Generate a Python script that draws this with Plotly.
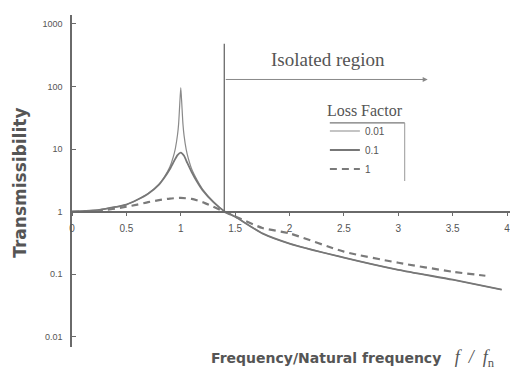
import math
import plotly.graph_objects as go

# ---- data ----
x_001 = [0, 0.25, 0.5, 0.6, 0.7, 0.8, 0.85, 0.9, 0.93, 0.95, 0.97, 0.98, 0.99, 1.0,
         1.01, 1.02, 1.03, 1.05, 1.07, 1.1, 1.15, 1.2, 1.3, 1.4, 1.5, 1.75, 2.0, 2.5, 3.0, 3.5, 3.95]
y_001 = [1.0, 1.07, 1.3, 1.55, 1.95, 2.75, 3.6, 5.2, 7.4, 10.2, 16.9, 25, 50, 96,
         50, 25, 16.5, 9.8, 7.0, 4.8, 3.2, 2.3, 1.45, 1.02, 0.83, 0.45, 0.31, 0.185, 0.118, 0.082, 0.057]

x_01 = [0, 0.25, 0.4, 0.5, 0.6, 0.7, 0.8, 0.85, 0.9, 0.94, 0.97, 1.0,
        1.03, 1.06, 1.1, 1.15, 1.2, 1.3, 1.4, 1.5, 1.75, 2.0, 2.5, 3.0, 3.5, 3.95]
y_01 = [1.0, 1.07, 1.19, 1.3, 1.55, 1.93, 2.7, 3.5, 4.8, 6.5, 8.0, 8.8,
        7.8, 6.0, 4.3, 3.0, 2.2, 1.42, 1.02, 0.83, 0.45, 0.31, 0.185, 0.118, 0.082, 0.057]

x_1 = [0, 0.25, 0.5, 0.6, 0.7, 0.8, 0.9, 1.0, 1.1, 1.2, 1.3, 1.4, 1.5, 1.75, 2.0, 2.5, 3.0, 3.5, 3.8]
y_1 = [1.0, 1.03, 1.2, 1.3, 1.42, 1.53, 1.62, 1.66, 1.6, 1.42, 1.2, 1.0, 0.84, 0.55, 0.45, 0.23, 0.153, 0.11, 0.095]

x_ticks = [0, 0.5, 1, 1.5, 2, 2.5, 3, 3.5, 4]
x_ticklabels = ["0", "0.5", "1", "1.5", "2", "2.5", "3", "3.5", "4"]
y_ticks = [0.01, 0.1, 1, 10, 100, 1000]
y_ticklabels = ["0.01", "0.1", "1", "10", "100", "1000"]

isolation_ratio = 1.40
vline_top = 480
arrow_y = 129
arrow_end = 3.27
label_y = 270

GREY = "#6a6a6a"
TXT = "#555555"

fig = go.Figure()
fig.add_trace(go.Scatter(x=x_001, y=y_001, mode="lines", name="0.01", line_shape="spline",
                         line=dict(color="#8a8a8a", width=1.2, smoothing=0.6)))
fig.add_trace(go.Scatter(x=x_01, y=y_01, mode="lines", name="0.1", line_shape="spline",
                         line=dict(color="#777777", width=1.8, smoothing=0.6)))
fig.add_trace(go.Scatter(x=x_1, y=y_1, mode="lines", name="1", line_shape="spline",
                         line=dict(color="#7a7a7a", width=2.2, dash="7px,5px", smoothing=0.6)))

# vertical line at isolation boundary and arrow
fig.add_trace(go.Scatter(x=[isolation_ratio, isolation_ratio], y=[1, vline_top], mode="lines",
                         line=dict(color=GREY, width=1.3), showlegend=False, hoverinfo="skip"))
fig.add_annotation(x=arrow_end, y=math.log10(arrow_y), ax=isolation_ratio, ay=math.log10(arrow_y),
                   xref="x", yref="y", axref="x", ayref="y",
                   showarrow=True, arrowhead=2, arrowsize=1, arrowwidth=1, arrowcolor="#888888", text="")
fig.add_annotation(x=2.35, y=math.log10(label_y), xref="x", yref="y", text="Isolated region", showarrow=False,
                   font=dict(family="Liberation Serif", size=19, color=TXT))

# axis titles
fig.add_annotation(x=-0.117, y=0.494, xref="paper", yref="paper", xanchor="center", yanchor="middle",
                   text="<b>Transmissibility</b>", textangle=-90, showarrow=False,
                   font=dict(family="DejaVu Sans", size=17, color=TXT))
fig.add_annotation(x=0.63, y=-0.036, xref="paper", yref="paper", xanchor="center", yanchor="middle",
                   text="<b>Frequency/Natural frequency</b>&nbsp;&nbsp;&nbsp;<span style='font-family:Liberation Serif;font-size:18px'><i>f&nbsp;&nbsp;/&nbsp;&nbsp;f</i><sub>n</sub></span>",
                   showarrow=False, font=dict(family="DejaVu Sans", size=14, color=TXT))

# legend frame lines
fig.add_shape(type="line", xref="paper", yref="paper", x0=0.578, x1=0.746, y0=0.675, y1=0.675,
              line=dict(color="#777777", width=1.2))
fig.add_shape(type="line", xref="paper", yref="paper", x0=0.746, x1=0.746, y0=0.675, y1=0.5,
              line=dict(color="#999999", width=1))

# the page adds an 8px body margin, so the figure is 8px smaller than the window
fig.update_layout(
    width=510, height=368,
    margin=dict(l=64, r=0, t=7, b=29),
    plot_bgcolor="white", paper_bgcolor="white",
    showlegend=True,
    legend=dict(x=0.567, y=0.757, xanchor="left", yanchor="top",
                title=dict(text="Loss Factor", font=dict(family="Liberation Serif", size=16, color=TXT), side="top"),
                font=dict(family="Liberation Sans", size=10, color=TXT),
                bgcolor="rgba(0,0,0,0)", tracegroupgap=0, itemwidth=30),
    xaxis=dict(range=[0, 4.1], tickvals=x_ticks, ticktext=x_ticklabels,
               anchor="free", position=0.4075, showline=True, linecolor=GREY, linewidth=1.5,
               ticks="outside", ticklen=4, tickcolor=GREY, showgrid=False, zeroline=False,
               ticklabelstandoff=4, ticklabeloverflow="allow",
               tickfont=dict(family="Liberation Sans", size=10, color=TXT)),
    yaxis=dict(type="log", range=[-2.16, 3.14], tickvals=y_ticks, ticktext=y_ticklabels,
               showline=True, linecolor=GREY, linewidth=1.5, ticks="inside", ticklen=4,
               tickcolor=GREY, showgrid=False, zeroline=False, ticklabelstandoff=6,
               tickfont=dict(family="Liberation Sans", size=9, color=TXT)),
)

fig.write_html("out.html")
